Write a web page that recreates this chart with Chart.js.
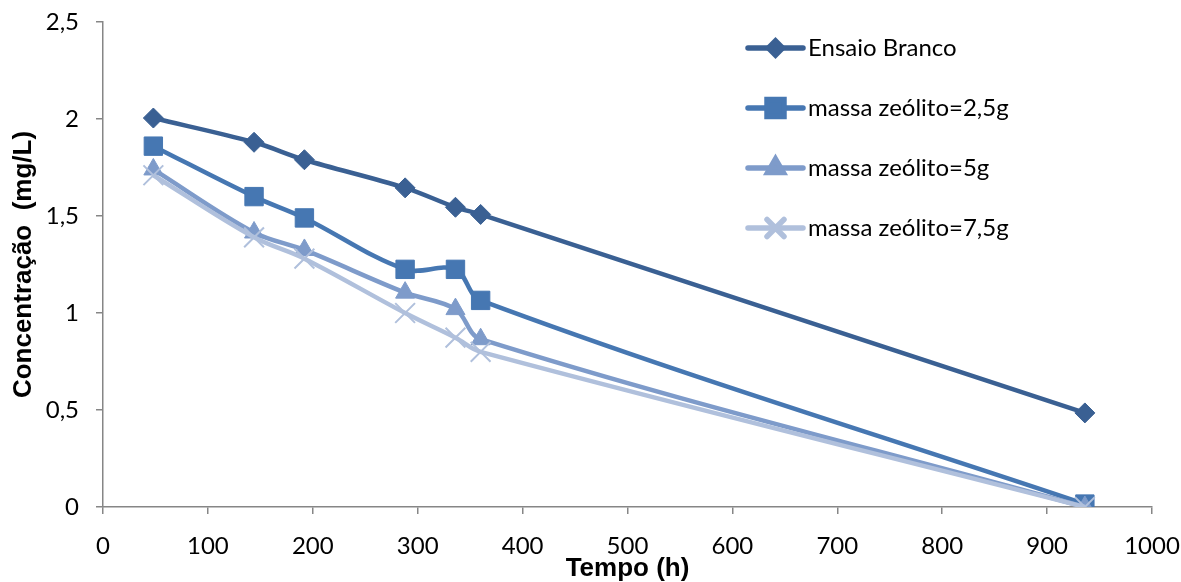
<!DOCTYPE html>
<html>
<head>
<meta charset="utf-8">
<script src="https://cdn.jsdelivr.net/npm/chart.js@4/dist/chart.umd.min.js"></script>
<style>
    html, body { margin: 0; padding: 0; background: #fff; }
    #wrap { width: 1181px; height: 582px; position: relative; }
</style>
</head>
<body>
<div id="wrap"><canvas id="chart"></canvas></div>
<script>
// tempo (h)
const tempo = [48, 144, 192, 288, 336, 360, 936];

// concentração (mg/L) per series
const ensaioBranco = [2.005, 1.88, 1.79, 1.645, 1.545, 1.508, 0.485];
const zeolito25 = [1.86, 1.60, 1.49, 1.225, 1.225, 1.065, 0.015];
const zeolito5 = [1.74, 1.415, 1.325, 1.105, 1.02, 0.865, 0.0];
const zeolito75 = [1.71, 1.39, 1.28, 1.0, 0.873, 0.80, 0.0];

const seriesLabels = ['Ensaio Branco', 'massa zeólito=2,5g', 'massa zeólito=5g', 'massa zeólito=7,5g'];
const xTicks = [0, 100, 200, 300, 400, 500, 600, 700, 800, 900, 1000];
const yTicks = [0, 0.5, 1, 1.5, 2, 2.5];

const tickFont = {family: 'Lato', size: 24};
const titleFont = {family: 'Liberation Sans', size: 26, weight: 'bold', lineHeight: 1};
const axisColor = '#868686';

function toPoints(values) {
    return tempo.map((t, i) => ({x: t, y: values[i]}));
}

function makeSet(label, values, color, style, radius, order) {
    return {
        label: label,
        data: toPoints(values),
        borderColor: color,
        backgroundColor: color,
        borderWidth: 4.5,
        pointStyle: style,
        pointRadius: radius,
        pointBackgroundColor: color,
        pointBorderColor: color,
        pointBorderWidth: style === 'crossRot' ? 2 : 1,
        tension: 0.35,
        order: order,
    };
}

// legend drawn inside the plot area, top right
const legendRadius = {rectRot: 7, rect: 12, triangle: 9, crossRot: 12};
const insideLegend = {
    id: 'insideLegend',
    afterDraw(chart) {
        const ctx = chart.ctx;
        const x0 = 748, x1 = 803, tx = 808;
        ctx.save();
        chart.data.datasets.forEach((ds, i) => {
            const y = 48 + i * 60;
            ctx.strokeStyle = ds.borderColor;
            ctx.lineWidth = 5.5;
            ctx.lineCap = 'round';
            ctx.beginPath();
            ctx.moveTo(x0, y);
            ctx.lineTo(x1, y);
            ctx.stroke();
            ctx.fillStyle = ds.pointBackgroundColor;
            ctx.strokeStyle = ds.pointBorderColor;
            Chart.helpers.drawPoint(ctx, {
                pointStyle: ds.pointStyle,
                radius: legendRadius[ds.pointStyle],
                borderWidth: ds.pointBorderWidth,
                rotation: 0,
            }, (x0 + x1) / 2, y);
            ctx.fillStyle = '#000';
            ctx.font = '24px Lato';
            ctx.textBaseline = 'middle';
            ctx.textAlign = 'left';
            ctx.fillText(ds.label, tx, y);
        });
        ctx.restore();
    }
};

new Chart(document.getElementById('chart'), {
    type: 'line',
    data: {
        datasets: [
            makeSet(seriesLabels[0], ensaioBranco, '#3A6093', 'rectRot', 10, 3),
            makeSet(seriesLabels[1], zeolito25, '#4677B2', 'rect', 13, 2),
            makeSet(seriesLabels[2], zeolito5, '#7E9BCA', 'triangle', 11, 1),
            makeSet(seriesLabels[3], zeolito75, '#B0C0DC', 'crossRot', 14, 0),
        ]
    },
    options: {
        responsive: true,
        maintainAspectRatio: false,
        animation: false,
        layout: {padding: {left: 0, right: 29, top: 22, bottom: 0}},
        plugins: {
            legend: {display: false},
            tooltip: {enabled: false},
        },
        scales: {
            x: {
                type: 'linear',
                min: 0,
                max: 1000,
                afterFit: (scale) => {
                    scale.height = 75;
                    scale.paddingLeft = 0;
                    scale.paddingRight = 0;
                },
                afterBuildTicks: (scale) => { scale.ticks = xTicks.map(v => ({value: v})); },
                border: {display: true, color: axisColor, width: 1.5},
                grid: {drawOnChartArea: false, drawTicks: true, tickLength: 7, color: axisColor, lineWidth: 1.5},
                ticks: {font: tickFont, color: '#000', padding: 18, maxRotation: 0, callback: (v) => String(v)},
                title: {display: true, text: 'Tempo (h)', font: titleFont, color: '#000', padding: {top: 0, bottom: 0}},
            },
            y: {
                min: 0,
                max: 2.5,
                afterFit: (scale) => {
                    scale.width = 103;
                    scale.paddingTop = 0;
                    scale.paddingBottom = 0;
                },
                afterBuildTicks: (scale) => { scale.ticks = yTicks.map(v => ({value: v})); },
                border: {display: true, color: axisColor, width: 1.5},
                grid: {drawOnChartArea: false, drawTicks: true, tickLength: 7, color: axisColor, lineWidth: 1.5},
                ticks: {
                    font: tickFont,
                    color: '#000',
                    padding: 17,
                    callback: (v) => String(v).replace('.', ','),
                },
                title: {display: true, text: 'Concentração  (mg/L)', font: titleFont, color: '#000', padding: {top: 11, bottom: 0}},
            }
        }
    },
    plugins: [insideLegend]
});
</script>
</body>
</html>
